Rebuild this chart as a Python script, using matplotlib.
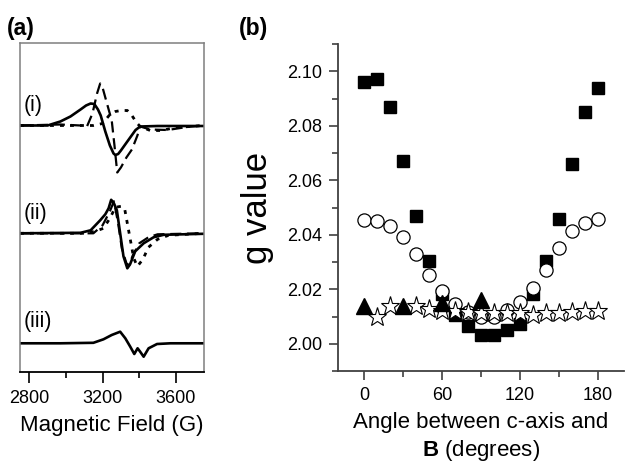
import matplotlib

matplotlib.use("Agg")

import matplotlib.pyplot as plt  # noqa: E402
from matplotlib.ticker import MultipleLocator  # noqa: E402

plt.rcParams["font.family"] = ["Liberation Sans", "DejaVu Sans"]
plt.rcParams["mathtext.fontset"] = "custom"
plt.rcParams["mathtext.rm"] = "Liberation Sans"
plt.rcParams["mathtext.bf"] = "Liberation Sans:bold"

# ---------------------------------------------------------------------------
# Panel (a): EPR spectra (field in G, signal offset)
# ---------------------------------------------------------------------------
i_solid_field = [2750, 2900, 2970, 3025, 3080, 3110, 3135, 3155, 3175, 3190, 3215,
                 3240, 3260, 3270, 3285, 3300, 3335, 3380, 3405, 3500, 3750]
i_solid_sig = [0, 0, 4, 9, 16, 20, 22, 21.5, 16, 10, -6,
               -20, -28, -29.5, -28.5, -25, -16, -4.5, -1, -0.5, -0.5]

i_dash_field = [2750, 2970, 3080, 3115, 3145, 3170, 3187, 3200, 3215, 3250, 3265,
                3280, 3300, 3330, 3360, 3390, 3405, 3460, 3555, 3660, 3750]
i_dash_sig = [0, 1, 0, -1, 12, 32, 42, 38, 28, 5, -20,
              -47, -42, -32, -24, -10, -1, -4, -4.5, -1.5, 0]

i_dot_field = [2750, 3150, 3200, 3240, 3270, 3300, 3335, 3360, 3385, 3405, 3460,
               3520, 3600, 3750]
i_dot_sig = [0, 0, 2, 11, 14, 15, 15, 10, 3, -1, -5, -5, -2, 0]

ii_solid_field = [2750, 3080, 3135, 3187, 3215, 3233, 3247, 3262, 3278, 3296, 3314,
                  3335, 3350, 3378, 3424, 3478, 3533, 3750]
ii_solid_sig = [0, 0.5, 3, 13, 19, 25, 33.5, 30, 23, 0, -23,
                -35, -31, -18, -10, -4, -1.5, -0.5]

ii_dash_field = [2750, 3150, 3200, 3240, 3262, 3285, 3305, 3330, 3345, 3365, 3400,
                 3450, 3500, 3750]
ii_dash_sig = [0, 0, 8, 22, 32, 10, -15, -30, -32, -22, -10, -4, -1, 0]

ii_dot_field = [2750, 3100, 3160, 3205, 3240, 3270, 3300, 3320, 3345, 3370, 3390,
                3420, 3450, 3500, 3560, 3750]
ii_dot_sig = [0, 0, 2, 5, 15, 26, 27, 25, 0, -25, -33, -26, -14, -6, -2, 0]

iii_solid_field = [2750, 2970, 3150, 3205, 3250, 3296, 3324, 3351, 3373, 3391, 3405,
                   3424, 3451, 3497, 3570, 3750]
iii_solid_sig = [0, 0, 0.5, 4, 8.3, 11.6, 5, -3.4, -10.7, -5, -8.4,
                 -13.4, -5, -0.7, 0, 0]

# ---------------------------------------------------------------------------
# Panel (b): g value vs angle
# ---------------------------------------------------------------------------
sq_angle = [0, 10, 20, 30, 40, 50, 60, 70, 80, 90, 100, 110, 120, 130, 140, 150,
            160, 170, 180]
sq_g = [2.0961, 2.0971, 2.0870, 2.0670, 2.0467, 2.0304, 2.0184, 2.0105, 2.0064,
        2.0032, 2.0032, 2.0050, 2.0073, 2.0184, 2.0303, 2.0458, 2.0660, 2.0850,
        2.0940]

circ_angle = [0, 10, 20, 30, 40, 50, 60, 70, 80, 90, 100, 110, 120, 130, 140, 150,
              160, 170, 180]
circ_g = [2.0455, 2.0449, 2.0431, 2.0390, 2.0329, 2.0254, 2.0192, 2.0147, 2.0115,
          2.0098, 2.0097, 2.0125, 2.0155, 2.0206, 2.0270, 2.0353, 2.0415, 2.0443,
          2.0458]

tri_angle = [0, 30, 60, 90]
tri_g = [2.0137, 2.0137, 2.0149, 2.0162]

star_angle = [10, 20, 40, 50, 60, 70, 80, 90, 100, 110, 120, 130, 140, 150, 160,
              170, 180]
star_g = [2.0098, 2.0137, 2.0137, 2.0128, 2.0122, 2.0119, 2.0115, 2.0113, 2.0113,
          2.0114, 2.0112, 2.0107, 2.0113, 2.0113, 2.0116, 2.0119, 2.0122]

# baselines of the stacked spectra (layout only)
BASE = {"i": 246.5, "ii": 138.7, "iii": 28.7}

fig = plt.figure(figsize=(6.25, 4.72), dpi=100)

# ---------------------------- panel (a) ------------------------------------
ax_a = fig.add_axes([20 / 625, 100 / 472, 184 / 625, 329 / 472])
dash = (0, (5, 2.6))
dot = (0, (1.4, 2.2))


def _trace(field, sig, base, style, lw):
    ax_a.plot(field, [base + s for s in sig], color="black", linestyle=style,
              linewidth=lw, solid_joinstyle="round", dash_capstyle="butt")


_trace(i_dot_field, i_dot_sig, BASE["i"], dot, 2.0)
_trace(i_dash_field, i_dash_sig, BASE["i"], dash, 1.6)
_trace(i_solid_field, i_solid_sig, BASE["i"], "-", 1.9)
_trace(ii_dot_field, ii_dot_sig, BASE["ii"], dot, 2.0)
_trace(ii_dash_field, ii_dash_sig, BASE["ii"], dash, 1.6)
_trace(ii_solid_field, ii_solid_sig, BASE["ii"], "-", 1.9)
_trace(iii_solid_field, iii_solid_sig, BASE["iii"], "-", 1.9)

ax_a.set_xlim(2750, 3753)
ax_a.set_ylim(0, 329)
ax_a.set_yticks([])
ax_a.xaxis.set_major_locator(MultipleLocator(400))
ax_a.xaxis.set_minor_locator(MultipleLocator(200))
ax_a.tick_params(axis="x", which="major", length=8, width=1.2, labelsize=13,
                 pad=5, direction="out")
ax_a.tick_params(axis="x", which="minor", length=4.5, width=1.2, direction="out")
for name in ("top", "left", "right"):
    ax_a.spines[name].set_color("#7f7f7f")
    ax_a.spines[name].set_linewidth(1.1)
ax_a.spines["bottom"].set_linewidth(1.3)
ax_a.set_xlabel("Magnetic Field (G)", fontsize=16, labelpad=6)

for lab, y in (("(i)", 266), ("(ii)", 159), ("(iii)", 50)):
    ax_a.text(4 / 184, y / 329, lab, transform=ax_a.transAxes, fontsize=15.5,
              ha="left", va="center")

fig.text(7 / 625, 1 - 29 / 472, "(a)", fontsize=16.5, fontweight="bold",
         ha="left", va="center")

# ---------------------------- panel (b) ------------------------------------
ax_b = fig.add_axes([338 / 625, 101 / 472, 286 / 625, 327 / 472])
ax_b.plot(sq_angle, sq_g, linestyle="none", marker="s", markersize=9,
          color="black", zorder=2)
ax_b.plot(circ_angle, circ_g, linestyle="none", marker="o", markersize=9.5,
          markerfacecolor="white", markeredgecolor="black",
          markeredgewidth=0.9, zorder=3)
ax_b.plot(star_angle, star_g, linestyle="none", marker="*", markersize=14,
          markerfacecolor="white", markeredgecolor="black",
          markeredgewidth=0.8, zorder=4)
ax_b.plot(tri_angle, tri_g, linestyle="none", marker="^", markersize=11,
          color="black", zorder=5)

ax_b.set_xlim(-20, 200)
ax_b.set_ylim(1.99, 2.11)
ax_b.xaxis.set_major_locator(MultipleLocator(60))
ax_b.xaxis.set_minor_locator(MultipleLocator(30))
ax_b.yaxis.set_major_locator(MultipleLocator(0.02))
ax_b.yaxis.set_minor_locator(MultipleLocator(0.01))
ax_b.yaxis.set_major_formatter(plt.FormatStrFormatter("%.2f"))
ax_b.tick_params(which="major", length=6.5, width=1.2, labelsize=13, pad=5,
                 direction="out", color="#404040")
ax_b.tick_params(which="minor", length=4, width=1.2, direction="out",
                 color="#404040")
ax_b.spines["top"].set_visible(False)
ax_b.spines["right"].set_visible(False)
for name in ("left", "bottom"):
    ax_b.spines[name].set_color("#404040")
    ax_b.spines[name].set_linewidth(1.3)
ax_b.set_ylabel("g value", fontsize=25, labelpad=9)
ax_b.set_xlabel("Angle between c-axis and\n$\\mathbf{B}$ (degrees)", fontsize=16,
                labelpad=6, linespacing=1.25)

fig.text(239 / 625, 1 - 29 / 472, "(b)", fontsize=16.5, fontweight="bold",
         ha="left", va="center")

fig.savefig("out.png", dpi=100)
